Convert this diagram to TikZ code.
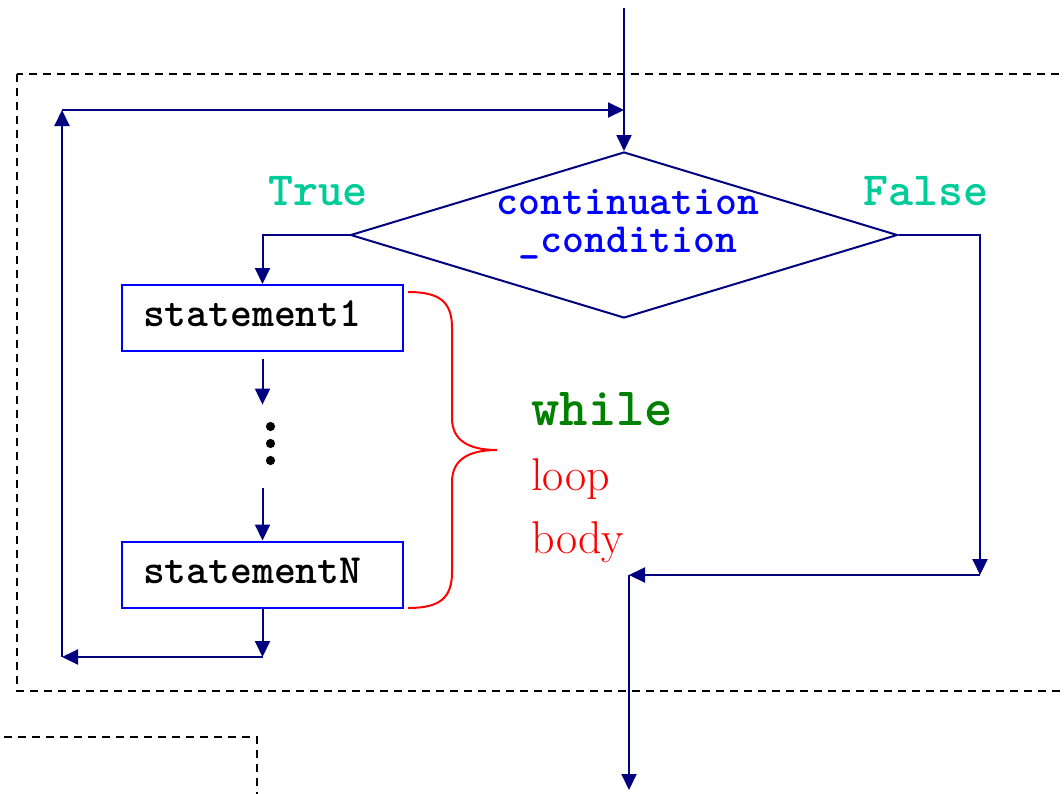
\documentclass[tikz,border=0pt]{standalone}
\usepackage{fontspec}
\usetikzlibrary{shapes.geometric, arrows.meta, calc}

\definecolor{navy}{RGB}{0,0,128}
\definecolor{boxblue}{RGB}{0,0,255}
\definecolor{branchgreen}{RGB}{0,204,153}
\definecolor{kwgreen}{RGB}{0,128,0}

\begin{document}
\begin{tikzpicture}[
    x=0.5pt, y=-0.5pt,
    flow/.style={draw=navy, line width=1pt, -{Triangle[length=8pt,width=7.5pt]}},
    stmt/.style={draw=boxblue, line width=1pt, minimum width=140.5pt, minimum height=33pt,
        inner xsep=10.5pt, text width=119.5pt, align=left, text depth=4pt,
        font=\ttfamily\bfseries\fontsize{20.8}{22}\selectfont},
    cond/.style={diamond, draw=navy, line width=1pt, minimum width=273.5pt,
        minimum height=83pt, inner sep=0pt},
    condtxt/.style={align=center, inner sep=0pt, text=boxblue,
        font=\ttfamily\bfseries\fontsize{20.8}{19}\selectfont},
    branch/.style={inner sep=0pt, text=branchgreen,
        font=\ttfamily\bfseries\fontsize{23.8}{25}\selectfont},
    bodytxt/.style={inner sep=0pt, anchor=base west, text=red,
        font=\fontsize{23}{26}\selectfont},
    region/.style={draw=black, line width=0.75pt, dash pattern=on 4pt off 3pt}
]
    \useasboundingbox (0,0) rectangle (1064,793);
    \clip (0,0) rectangle (1064,793);

    % dashed regions
    \draw[region] (17,74) rectangle (1090,691);
    \draw[region] (-10,737) -- (257,737) -- (257,810);

    % decision and statements
    \node[cond] (cond) at (624,235) {};
    \node[condtxt] (condlbl) at (628,224) {continuation\\\_condition};
    \node[stmt] (s1) at (262.5,318) {statement1};
    \node[stmt] (sN) at (262.5,574.5) {statementN};
    \node[minimum height=41.5pt, inner sep=0pt] (gap) at (262.5,446.5) {};
    \foreach \dy in {-17,0,17}
        \fill ($(gap.center)+(8,\dy-3)$) circle (2.3pt);

    \node[branch] (true) at (318,191) {True};
    \node[branch] (false) at (925.5,191) {False};

    % loop body label
    \node[bodytxt, text=kwgreen, font=\ttfamily\bfseries\fontsize{27}{28}\selectfont]
        (kw) at (531,425) {while};
    \node[bodytxt] (loop) at (531,490) {loop};
    \node[bodytxt] (body) at (531,553) {body};
    \draw[red, line width=1pt] (408,292) .. controls (440,292) and (452,302) .. (452,328)
        -- (452,418) .. controls (452,440) and (468,450) .. (497,450)
        .. controls (468,450) and (452,460) .. (452,482)
        -- (452,572) .. controls (452,598) and (440,608) .. (408,608);

    % coordinates for bends
    \coordinate (entry) at (624,8);
    \coordinate (retA) at (262.5,657);
    \coordinate (retB) at (62,657);
    \coordinate (retC) at (62,110);
    \coordinate (fdown) at (980,575);
    \coordinate (join) at (629,575);
    \coordinate (exit) at (629,790);

    % connectors
    \draw[flow] (entry) -- (cond.north);
    \draw[flow] (cond.west) -| (s1.north);
    \draw[flow] ([yshift=-3.5pt]s1.south) -- (gap.north);
    \draw[flow] (gap.south) -- (sN.north);
    \draw[flow] (sN.south) -- (retA);
    \draw[flow] (retA) -- (retB);
    \draw[flow] (retB) -- (retC);
    \draw[flow] (retC) -- (retC -| entry);
    \draw[flow] (cond.east) -| (fdown);
    \draw[flow] (fdown) -- (join);
    \draw[flow] (join) -- (exit);
\end{tikzpicture}
\end{document}
